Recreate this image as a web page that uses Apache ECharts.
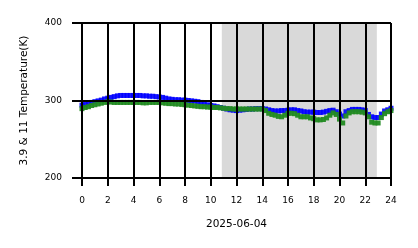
<!DOCTYPE html>
<html>
<head>
<meta charset="utf-8">
<script src="https://cdn.jsdelivr.net/npm/echarts@6/dist/echarts.min.js"></script>
<style>
  html, body { margin: 0; padding: 0; background: #fff; }
  #chart { width: 418px; height: 248px; }
</style>
</head>
<body>
<div id="chart"></div>
<script>
// sampled every 15 min, 00:00 .. 24:00
const step = 0.25
const xTicks = [0, 2, 4, 6, 8, 10, 12, 14, 16, 18, 20, 22, 24]
const yTicks = [200, 300, 400]
const nightBand = [10.86, 22.9]

// 3.9 um brightness temperature (K)
const t39 = [
  294, 295, 296, 297.5, 298.5, 299.5, 300.5, 302, 303, 304, 305, 306,
  306.5, 306.5, 306.5, 306.5, 306.5, 306.5, 306.5, 306, 306, 305.5, 305.5, 305,
  304.5, 304, 303, 302, 301.5, 301, 301, 300.5, 300.5, 300, 299.5, 299,
  298.5, 297.5, 296, 294.5, 293.5, 293, 292, 291, 290, 289, 288, 287.5,
  287, 287.5, 288, 288.5, 289, 289, 289.5, 289.5, 289.5, 289, 288, 287,
  286.5, 286.5, 287, 287, 287.5, 288, 288, 287, 286.5, 285.5, 285, 285,
  285, 284.5, 284.5, 285, 286, 287, 287.5, 285.5, 282.5, 280, 285.5, 287,
  288.5, 288.5, 288.5, 288, 287, 282, 279, 278, 278, 282.5, 286.5, 288,
  290
]

// 11 um brightness temperature (K)
const t11 = [
  289.5, 291, 292, 293.5, 294.5, 295.5, 296.5, 297.5, 298.5, 298, 297.5, 297.5,
  297.5, 297.5, 297.5, 297.5, 297.5, 297.5, 297.5, 297, 297, 297.5, 297.5, 297.5,
  297.5, 297, 296.5, 296, 296, 295.5, 295.5, 295, 294.5, 294, 293.5, 293,
  292.5, 292, 292, 291.5, 291.5, 291, 291, 290.5, 290, 289.5, 289.5, 289,
  289, 289, 289, 289, 289, 289, 289, 289, 289, 287, 283.5, 282,
  281, 279.5, 279, 281, 283.5, 283.5, 283, 281, 279, 279, 279, 277.5,
  276.5, 275, 275, 275.5, 277.5, 281, 284, 282, 276, 271, 280, 284,
  285.5, 285.5, 285.5, 285, 284, 279, 272, 271, 271, 278, 283, 285.5,
  287
]

const toPairs = vals => vals.map((v, i) => [i * step, v])

const chart = echarts.init(document.getElementById('chart'))
const font = 'DejaVu Sans'
const gridLine = { show: true, lineStyle: { color: '#000', width: 2 } }

chart.setOption({
  animation: false,
  backgroundColor: '#fff',
  grid: { left: 82, right: 27, top: 23, bottom: 70 },
  xAxis: {
    type: 'value',
    min: 0,
    max: 24,
    interval: 2,
    z: 10,
    name: '2025-06-04',
    nameLocation: 'middle',
    nameGap: 41,
    nameTextStyle: { fontFamily: font, fontSize: 10.5, color: '#000' },
    axisLine: { show: true, lineStyle: { color: '#000', width: 2 } },
    axisTick: { show: true, length: 8, lineStyle: { color: '#000', width: 2 } },
    axisLabel: { margin: 18, fontFamily: font, fontSize: 9, color: '#000',
      formatter: v => (xTicks.includes(v) ? String(v) : '') },
    splitLine: gridLine
  },
  yAxis: {
    type: 'value',
    min: 200,
    max: 400,
    interval: 100,
    z: 10,
    name: '3.9 & 11 Temperature(K)',
    nameLocation: 'middle',
    nameGap: 52,
    nameTextStyle: { fontFamily: font, fontSize: 10.5, color: '#000' },
    axisLine: { show: true, lineStyle: { color: '#000', width: 2 } },
    axisTick: { show: true, length: 10, lineStyle: { color: '#000', width: 2 } },
    axisLabel: { margin: 20, fontFamily: font, fontSize: 9, color: '#000',
      formatter: v => (yTicks.includes(v) ? String(v) : '') },
    splitLine: gridLine
  },
  series: [
    {
      name: '3.9',
      type: 'scatter',
      symbol: 'rect',
      symbolSize: 5,
      itemStyle: { color: '#0000ff', opacity: 0.9 },
      data: toPairs(t39),
      markArea: {
        silent: true,
        itemStyle: { color: '#d9d9d9' },
        data: [[{ xAxis: nightBand[0] }, { xAxis: nightBand[1] }]]
      }
    },
    {
      name: '11',
      type: 'scatter',
      symbol: 'rect',
      symbolSize: 5,
      itemStyle: { color: '#228b22', opacity: 0.95 },
      data: toPairs(t11)
    }
  ]
})
</script>
</body>
</html>
